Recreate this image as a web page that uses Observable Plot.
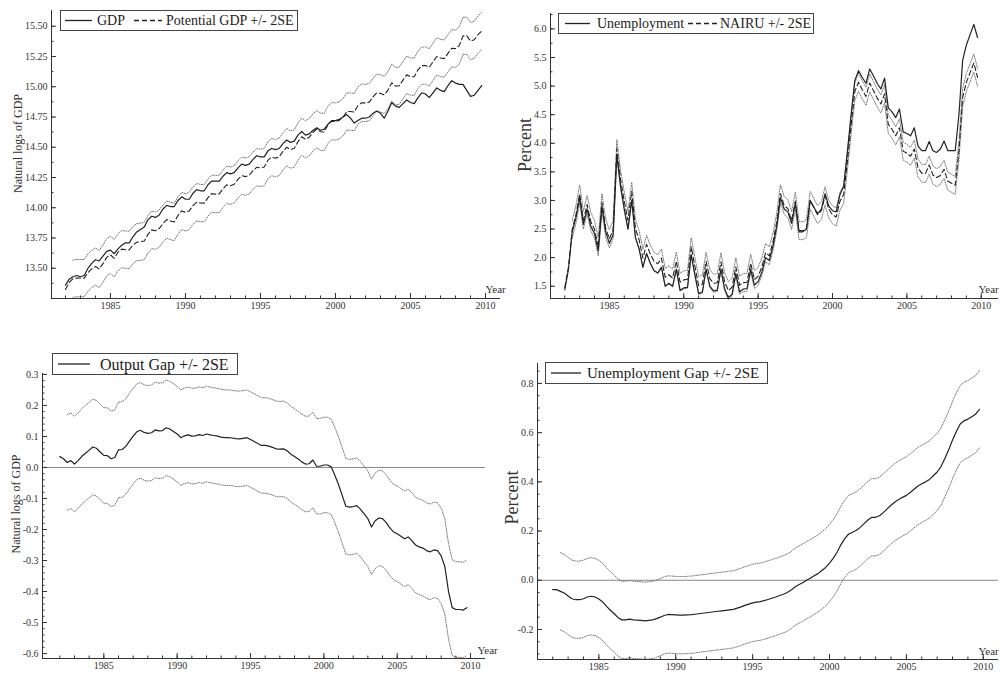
<!DOCTYPE html>
<html><head><meta charset="utf-8">
<script src="https://cdn.jsdelivr.net/npm/d3@7"></script>
<script src="https://cdn.jsdelivr.net/npm/@observablehq/plot@0.6"></script>
<style>
html,body{margin:0;padding:0;background:#fff;}
#root{position:relative;width:1001px;height:673px;overflow:hidden;background:#fff;font-family:"Liberation Serif","DejaVu Serif",serif;}
.panel{position:absolute;}
.legend{position:absolute;border:1px solid #444;background:#fff;box-sizing:border-box;}
.legend svg{display:block;overflow:visible;}
</style></head>
<body><div id="root"></div>
<script>
// ---------- tick labels ----------
const yearTicks = [1985, 1990, 1995, 2000, 2005, 2010];
const gdpTicks = [13.50, 13.75, 14.00, 14.25, 14.50, 14.75, 15.00, 15.25, 15.50];
const unempTicks = [1.5, 2.0, 2.5, 3.0, 3.5, 4.0, 4.5, 5.0, 5.5, 6.0];
const outGapTicks = [-0.6, -0.5, -0.4, -0.3, -0.2, -0.1, 0.0, 0.1, 0.2, 0.3];
const unGapTicks = [-0.2, 0.0, 0.2, 0.4, 0.6, 0.8];

// ---------- series (quarterly, 1982Q1 - 2009Q4) ----------
const firstYear = 1982;
const gdp = [
 13.36,13.41,13.43,13.44, 13.43,13.44,13.50,13.54, 13.57,13.56,13.60,13.64, 13.65,13.62,13.66,13.69,
 13.71,13.71,13.76,13.80, 13.82,13.84,13.90,13.93, 13.92,13.94,13.99,14.02, 14.01,14.01,14.06,14.09,
 14.07,14.07,14.12,14.15, 14.14,14.14,14.19,14.22, 14.22,14.22,14.26,14.29, 14.28,14.29,14.33,14.36,
 14.35,14.36,14.40,14.43, 14.42,14.42,14.47,14.49, 14.48,14.49,14.53,14.56, 14.54,14.55,14.60,14.63,
 14.60,14.61,14.64,14.66, 14.64,14.65,14.69,14.72, 14.72,14.73,14.75,14.77, 14.74,14.70,14.72,14.74,
 14.74,14.75,14.78,14.80, 14.78,14.74,14.80,14.87, 14.84,14.83,14.86,14.89, 14.87,14.86,14.91,14.95,
 14.94,14.91,14.95,14.99, 14.97,14.96,15.01,15.05, 15.03,15.02,15.02,14.97, 14.92,14.93,14.97,15.01];
const outputGap = [
 0.035,0.028,0.016,0.022, 0.011,0.022,0.036,0.046, 0.056,0.066,0.062,0.050, 0.039,0.038,0.028,0.032,
 0.057,0.058,0.068,0.085, 0.101,0.115,0.120,0.113, 0.110,0.112,0.121,0.118, 0.119,0.128,0.124,0.116,
 0.108,0.096,0.102,0.105, 0.101,0.102,0.106,0.103, 0.108,0.105,0.103,0.101, 0.098,0.096,0.096,0.095,
 0.093,0.092,0.094,0.096, 0.090,0.084,0.077,0.071, 0.071,0.069,0.065,0.060, 0.059,0.060,0.054,0.043,
 0.035,0.027,0.018,0.011, 0.012,0.024,0.004,0.004, 0.008,0.008,0.002,-0.025, -0.055,-0.090,-0.125,-0.128,
 -0.126,-0.123,-0.135,-0.150, -0.165,-0.192,-0.172,-0.163, -0.165,-0.178,-0.195,-0.208, -0.214,-0.222,-0.230,-0.224,
 -0.236,-0.250,-0.256,-0.260, -0.268,-0.272,-0.266,-0.268, -0.285,-0.320,-0.400,-0.452, -0.458,-0.458,-0.460,-0.452];
const outputGap2SE = 0.154;
const unemployment = [
 1.44,1.80,2.45,2.70, 3.05,2.58,2.85,2.55, 2.42,2.12,2.90,2.45, 2.25,2.40,3.80,3.25,
 2.85,2.50,3.00,2.35, 2.15,1.83,2.07,1.90, 1.77,1.73,1.83,1.50, 1.55,1.50,1.80,1.43,
 1.47,1.48,2.05,1.70, 1.37,1.40,1.80,1.50, 1.42,1.43,1.80,1.45, 1.30,1.36,1.72,1.40,
 1.45,1.46,1.80,1.52, 1.58,1.75,2.00,1.95, 2.20,2.55,3.05,2.85, 2.80,2.60,2.95,2.45,
 2.45,2.50,3.00,2.88, 2.77,2.85,3.12,2.90, 2.82,2.80,3.10,3.25, 3.85,4.50,5.10,5.27,
 5.15,5.05,5.30,5.18, 5.05,4.95,5.14,4.62, 4.55,4.45,4.60,4.20, 4.17,4.13,4.27,3.95,
 3.87,3.87,4.03,3.87, 3.84,3.90,4.04,3.87, 3.87,3.87,4.50,5.45, 5.72,5.90,6.08,5.85];
const unemploymentGap = [
 -0.038,-0.038,-0.045,-0.052, -0.064,-0.075,-0.079,-0.079, -0.075,-0.068,-0.065,-0.068, -0.076,-0.088,-0.106,-0.122,
 -0.136,-0.152,-0.161,-0.161, -0.158,-0.161,-0.162,-0.163, -0.165,-0.163,-0.161,-0.156, -0.150,-0.143,-0.139,-0.140,
 -0.141,-0.142,-0.142,-0.141, -0.140,-0.138,-0.136,-0.134, -0.132,-0.130,-0.128,-0.126, -0.124,-0.122,-0.120,-0.118,
 -0.113,-0.108,-0.102,-0.097, -0.092,-0.089,-0.087,-0.083, -0.078,-0.073,-0.068,-0.062, -0.057,-0.050,-0.040,-0.027,
 -0.018,-0.010,0.000,0.008, 0.018,0.027,0.040,0.052, 0.070,0.090,0.115,0.145, 0.170,0.188,0.195,0.203,
 0.215,0.230,0.245,0.256, 0.256,0.262,0.275,0.290, 0.305,0.318,0.328,0.337, 0.345,0.357,0.370,0.383,
 0.392,0.400,0.410,0.425, 0.440,0.462,0.495,0.530, 0.570,0.605,0.635,0.648, 0.655,0.665,0.675,0.695];
const unemploymentGap2SE = 0.157;

// ---------- tables ----------
const rows = gdp.map((g, i) => {
  const t = firstYear + i / 4;
  const pot = g - outputGap[i];
  const nairu = unemployment[i] - unemploymentGap[i];
  return {
    t, gdp: g, pot, potHi: pot + outputGap2SE, potLo: pot - outputGap2SE,
    gap: outputGap[i], gapHi: outputGap[i] + outputGap2SE, gapLo: outputGap[i] - outputGap2SE,
    u: unemployment[i], nairu, nairuHi: nairu + unemploymentGap2SE, nairuLo: nairu - unemploymentGap2SE,
    ug: unemploymentGap[i], ugHi: unemploymentGap[i] + unemploymentGap2SE, ugLo: unemploymentGap[i] - unemploymentGap2SE
  };
});
const bandRows = rows.slice(2);
const minorYears = d3.range(1982, 2011);

const INK = "#222", GREY = "#777";
const SERIF = '"Liberation Serif", serif';
const solid = (y, data = rows) => Plot.line(data, {x: "t", y, stroke: INK, strokeWidth: 1.2});
const dashed = (y) => Plot.line(rows, {x: "t", y, stroke: INK, strokeWidth: 1.1, strokeDasharray: "5,3"});
const dotted = (y) => Plot.line(bandRows, {x: "t", y, stroke: GREY, strokeWidth: 1, strokeDasharray: "1,1.4"});

const root = document.getElementById("root");

function panel(o) {
  const m = [];
  if (o.zero) m.push(Plot.ruleY([0], {stroke: "#888", strokeWidth: 1}));
  m.push(...o.marks);
  m.push(Plot.ruleX([o.xDomain[0]], {stroke: "#333"}));
  m.push(Plot.ruleY([o.yDomain[0]], {stroke: "#333"}));
  m.push(Plot.axisX({ticks: yearTicks, tickSize: -5, fill: "none", stroke: "#333", label: null}));
  m.push(Plot.axisX({ticks: minorYears, tickSize: -2.5, fill: "none", stroke: "#333", label: null}));
  m.push(Plot.axisX({ticks: yearTicks, tickSize: 0, tickPadding: 3, tickFormat: d => String(d), fill: "#333", label: null, fontFamily: SERIF, fontSize: 10}));
  m.push(Plot.axisY({ticks: o.yTicks, tickSize: -5, fill: "none", stroke: "#333", label: null}));
  m.push(Plot.axisY({ticks: o.yMinor, tickSize: -2.5, fill: "none", stroke: "#333", label: null}));
  m.push(Plot.axisY({ticks: o.yTicks, tickSize: 0, tickPadding: 4, tickFormat: o.yFmt, fill: "#333", label: null, fontFamily: SERIF, fontSize: 10}));
  m.push(Plot.text([o.yTitle], {frameAnchor: "left", text: d => d, rotate: -90, textAnchor: "middle", lineAnchor: "middle", dx: o.titleDx, dy: o.titleDy, fontSize: o.titleSize, fontFamily: SERIF, fill: "#333"}));
  m.push(Plot.text(["Year"], {frameAnchor: "bottom-right", text: d => d, textAnchor: "start", lineAnchor: "bottom", dx: o.yearDx, dy: o.yearDy, fontSize: 11, fontFamily: SERIF, fill: "#333"}));
  const svg = Plot.plot({
    width: o.width, height: o.height,
    marginTop: o.m[0], marginRight: o.m[1], marginBottom: o.m[2], marginLeft: o.m[3],
    x: {domain: o.xDomain}, y: {domain: o.yDomain},
    style: {fontFamily: SERIF, fontSize: "10px", color: "#333", background: "transparent", overflow: "visible"},
    marks: m
  });
  const div = document.createElement("div");
  div.className = "panel";
  div.style.left = o.left + "px"; div.style.top = o.top + "px";
  div.appendChild(svg);
  root.appendChild(div);
}

function legend(left, top, w, h, items, fs) {
  const div = document.createElement("div");
  div.className = "legend";
  Object.assign(div.style, {left: left + "px", top: top + "px", width: w + "px", height: h + "px"});
  const ns = "http://www.w3.org/2000/svg";
  const svg = document.createElementNS(ns, "svg");
  svg.setAttribute("width", w - 2); svg.setAttribute("height", h - 2);
  const cy = (h - 2) / 2;
  for (const it of items) {
    if (it.line) {
      const l = document.createElementNS(ns, "line");
      l.setAttribute("x1", it.line[0]); l.setAttribute("x2", it.line[1]);
      l.setAttribute("y1", cy); l.setAttribute("y2", cy);
      l.setAttribute("stroke", INK); l.setAttribute("stroke-width", 1.3);
      if (it.dash) l.setAttribute("stroke-dasharray", "5,3");
      svg.appendChild(l);
    } else {
      const t = document.createElementNS(ns, "text");
      t.setAttribute("x", it.x); t.setAttribute("y", cy);
      t.setAttribute("dominant-baseline", "central");
      t.setAttribute("font-family", SERIF);
      t.setAttribute("font-size", fs); t.setAttribute("fill", INK);
      t.textContent = it.text;
      svg.appendChild(t);
    }
  }
  div.appendChild(svg);
  root.appendChild(div);
}

const f2 = d => d.toFixed(2), f1 = d => d.toFixed(1);

// Panel 1: GDP and potential
panel({left: 0, top: 0, width: 500, height: 315, m: [10, 0, 17, 51],
  xDomain: [1981.07, 2011.0], yDomain: [13.25, 15.63],
  yTicks: gdpTicks, yMinor: d3.range(13.375, 15.6, 0.125), yFmt: f2,
  yTitle: "Natural logs of GDP", titleSize: 12, titleDx: -33, titleDy: -11,
  yearDx: -15, yearDy: -6,
  marks: [dotted("potHi"), dotted("potLo"), dashed("pot"), solid("gdp")]});

// Panel 2: Unemployment and NAIRU
panel({left: 500, top: 0, width: 501, height: 315, m: [13, 3, 17, 50],
  xDomain: [1981.04, 2011.16], yDomain: [1.285, 6.27],
  yTicks: unempTicks, yMinor: d3.range(1.5, 6.26, 0.25), yFmt: f1,
  yTitle: "Percent", titleSize: 18, titleDx: -25, titleDy: -11,
  yearDx: -20, yearDy: -6,
  marks: [dotted("nairuHi"), dotted("nairuLo"), dashed("nairu"), solid("u")]});

// Panel 3: Output gap
panel({left: 0, top: 330, width: 500, height: 343, m: [43, 15, 15, 42],
  xDomain: [1980.82, 2011.02], yDomain: [-0.616, 0.303],
  yTicks: outGapTicks, yMinor: d3.range(-0.6, 0.301, 0.02), yFmt: f1,
  yTitle: "Natural logs of GDP", titleSize: 12, titleDx: -26, titleDy: -12,
  yearDx: -8, yearDy: -5, zero: true,
  marks: [dotted("gapHi"), dotted("gapLo"), solid("gap")]});

// Panel 4: Unemployment gap
panel({left: 500, top: 330, width: 501, height: 343, m: [33, 3, 14, 37],
  xDomain: [1981.01, 2010.99], yDomain: [-0.322, 0.881],
  yTicks: unGapTicks, yMinor: d3.range(-0.3, 0.88, 0.05), yFmt: f1,
  yTitle: "Percent", titleSize: 18, titleDx: -25, titleDy: -14,
  yearDx: -20, yearDy: -5, zero: true,
  marks: [dotted("ugHi"), dotted("ugLo"), solid("ug")]});

legend(60, 10, 238, 21, [{line: [4, 31]}, {x: 36, text: "GDP"}, {line: [73, 101], dash: true}, {x: 105, text: "Potential GDP +/- 2SE"}], 14);
legend(558, 13, 256, 21, [{line: [6, 31]}, {x: 38, text: "Unemployment"}, {line: [129, 158], dash: true}, {x: 161, text: "NAIRU +/- 2SE"}], 14);
legend(52, 353, 186, 22, [{line: [5, 37]}, {x: 47, text: "Output Gap +/- 2SE"}], 16);
legend(545, 362, 223, 22, [{line: [5, 35]}, {x: 41, text: "Unemployment Gap +/- 2SE"}], 15);
</script>
</body></html>
